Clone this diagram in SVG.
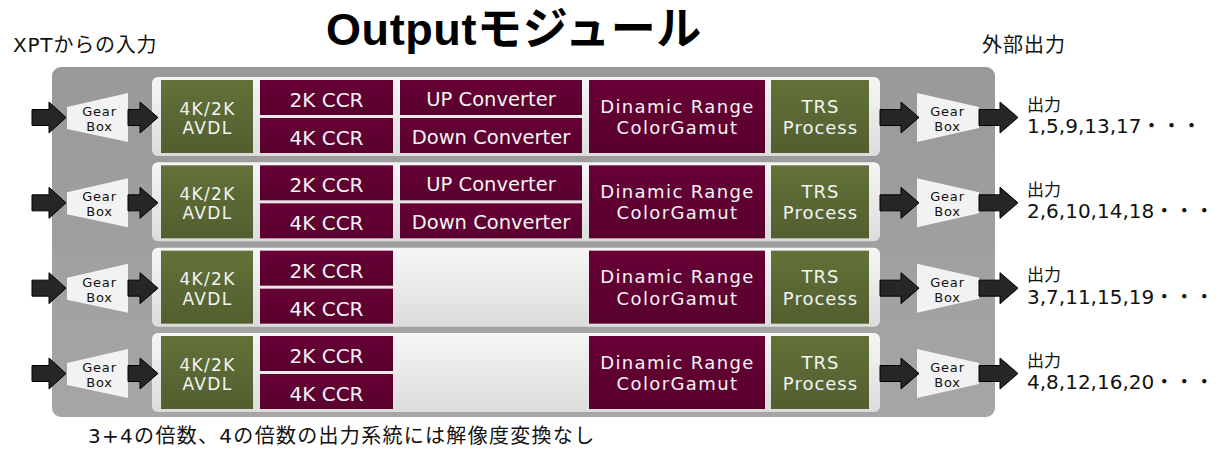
<svg xmlns="http://www.w3.org/2000/svg" width="1222" height="449" viewBox="0 0 1222 449">
<defs>
<linearGradient id="gOuter" x1="0" y1="0" x2="0" y2="1"><stop offset="0" stop-color="#999999"/><stop offset="1" stop-color="#a6a6a6"/></linearGradient>
<linearGradient id="gPanel" x1="0" y1="0" x2="0" y2="1"><stop offset="0" stop-color="#f6f6f6"/><stop offset="1" stop-color="#dcdcdc"/></linearGradient>
<linearGradient id="gRed" x1="0" y1="0" x2="0" y2="1"><stop offset="0" stop-color="#680036"/><stop offset="1" stop-color="#58002d"/></linearGradient>
<linearGradient id="gGreen" x1="0" y1="0" x2="0" y2="1"><stop offset="0" stop-color="#627239"/><stop offset="1" stop-color="#515f2e"/></linearGradient>
<style>
.panel{fill:url(#gPanel)}
.red{fill:url(#gRed)}
.green{fill:url(#gGreen)}
.gear{fill:#f2f2f2}
.arr{fill:#262626;stroke:#000;stroke-width:1}
.bt{font-family:"DejaVu Sans",sans-serif;fill:#f4f4f4;text-anchor:middle}
.av{font-size:17px;letter-spacing:1.3px}
.dr{font-size:18px;letter-spacing:1.4px}
.tr{font-size:18px;letter-spacing:1px}
.cc{font-size:20px}
.cv{font-size:19.5px}
.gt{font-family:"DejaVu Sans",sans-serif;fill:#111;font-size:13px;letter-spacing:0.8px;text-anchor:middle}
.jp{font-family:"DejaVu Sans","Noto Sans CJK JP",sans-serif;fill:#111;font-size:20px}
.ok{font-family:"DejaVu Sans","Noto Sans CJK JP",sans-serif;fill:#111;font-size:17px}
</style>
</defs>
<rect x="0" y="0" width="1222" height="449" fill="#ffffff"/>
<text x="326" y="45" font-family="'Liberation Sans','Noto Sans CJK JP',sans-serif" font-weight="bold" font-size="45" letter-spacing="0.6" fill="#000">Outputモジュール</text>
<text class="jp" x="13" y="52" letter-spacing="0.8">XPTからの入力</text>
<text class="jp" x="982" y="52" letter-spacing="1">外部出力</text>
<g id="module">
<rect x="52" y="67" width="943" height="350" rx="9" fill="url(#gOuter)"/>
</g>
<g id="row1">
<rect class="panel" x="152" y="77" width="728" height="79" rx="6"/>
<g id="avdl1"><rect class="green" x="161" y="80" width="92" height="73"/><text class="bt av" x="207.5" y="114.5">4K/2K</text><text class="bt av" x="207.5" y="134">AVDL</text></g>
<g id="ccr2k1"><rect class="red" x="260" y="80" width="133" height="35"/><text class="bt cc" x="326.5" y="107">2K CCR</text></g>
<g id="ccr4k1"><rect class="red" x="260" y="118" width="133" height="35"/><text class="bt cc" x="326.5" y="145">4K CCR</text></g>
<g id="up1"><rect class="red" x="400" y="80" width="182" height="35"/><text class="bt cv" x="491" y="105.5">UP Converter</text></g>
<g id="down1"><rect class="red" x="400" y="118" width="182" height="35"/><text class="bt cv" x="491" y="143.5">Down Converter</text></g>
<g id="dr1"><rect class="red" x="589" y="80" width="176" height="73"/><text class="bt dr" x="677.5" y="112.5">Dinamic Range</text><text class="bt dr" x="677.5" y="134">ColorGamut</text></g>
<g id="trs1"><rect class="green" x="771" y="80" width="98" height="73"/><text class="bt tr" x="820.5" y="112.5">TRS</text><text class="bt tr" x="820.5" y="134">Process</text></g>
</g>
<g id="row2" transform="translate(0,85.33)">
<rect class="panel" x="152" y="77" width="728" height="79" rx="6"/>
<g id="avdl2"><rect class="green" x="161" y="80" width="92" height="73"/><text class="bt av" x="207.5" y="114.5">4K/2K</text><text class="bt av" x="207.5" y="134">AVDL</text></g>
<g id="ccr2k2"><rect class="red" x="260" y="80" width="133" height="35"/><text class="bt cc" x="326.5" y="107">2K CCR</text></g>
<g id="ccr4k2"><rect class="red" x="260" y="118" width="133" height="35"/><text class="bt cc" x="326.5" y="145">4K CCR</text></g>
<g id="up2"><rect class="red" x="400" y="80" width="182" height="35"/><text class="bt cv" x="491" y="105.5">UP Converter</text></g>
<g id="down2"><rect class="red" x="400" y="118" width="182" height="35"/><text class="bt cv" x="491" y="143.5">Down Converter</text></g>
<g id="dr2"><rect class="red" x="589" y="80" width="176" height="73"/><text class="bt dr" x="677.5" y="112.5">Dinamic Range</text><text class="bt dr" x="677.5" y="134">ColorGamut</text></g>
<g id="trs2"><rect class="green" x="771" y="80" width="98" height="73"/><text class="bt tr" x="820.5" y="112.5">TRS</text><text class="bt tr" x="820.5" y="134">Process</text></g>
</g>
<g id="row3" transform="translate(0,170.67)">
<rect class="panel" x="152" y="77" width="728" height="79" rx="6"/>
<g id="avdl3"><rect class="green" x="161" y="80" width="92" height="73"/><text class="bt av" x="207.5" y="114.5">4K/2K</text><text class="bt av" x="207.5" y="134">AVDL</text></g>
<g id="ccr2k3"><rect class="red" x="260" y="80" width="133" height="35"/><text class="bt cc" x="326.5" y="107">2K CCR</text></g>
<g id="ccr4k3"><rect class="red" x="260" y="118" width="133" height="35"/><text class="bt cc" x="326.5" y="145">4K CCR</text></g>
<g id="dr3"><rect class="red" x="589" y="80" width="176" height="73"/><text class="bt dr" x="677.5" y="112.5">Dinamic Range</text><text class="bt dr" x="677.5" y="134">ColorGamut</text></g>
<g id="trs3"><rect class="green" x="771" y="80" width="98" height="73"/><text class="bt tr" x="820.5" y="112.5">TRS</text><text class="bt tr" x="820.5" y="134">Process</text></g>
</g>
<g id="row4" transform="translate(0,256)">
<rect class="panel" x="152" y="77" width="728" height="79" rx="6"/>
<g id="avdl4"><rect class="green" x="161" y="80" width="92" height="73"/><text class="bt av" x="207.5" y="114.5">4K/2K</text><text class="bt av" x="207.5" y="134">AVDL</text></g>
<g id="ccr2k4"><rect class="red" x="260" y="80" width="133" height="35"/><text class="bt cc" x="326.5" y="107">2K CCR</text></g>
<g id="ccr4k4"><rect class="red" x="260" y="118" width="133" height="35"/><text class="bt cc" x="326.5" y="145">4K CCR</text></g>
<g id="dr4"><rect class="red" x="589" y="80" width="176" height="73"/><text class="bt dr" x="677.5" y="112.5">Dinamic Range</text><text class="bt dr" x="677.5" y="134">ColorGamut</text></g>
<g id="trs4"><rect class="green" x="771" y="80" width="98" height="73"/><text class="bt tr" x="820.5" y="112.5">TRS</text><text class="bt tr" x="820.5" y="134">Process</text></g>
</g>
<g id="gearboxes">
<g id="gearIn1"><polygon class="gear" points="67,107 128,93 128,142 67,129"/><text class="gt" x="99.5" y="116">Gear</text><text class="gt" x="99.5" y="131">Box</text></g>
<g id="gearOut1"><polygon class="gear" points="917,93 979,107 979,128 917,142"/><text class="gt" x="947.5" y="116">Gear</text><text class="gt" x="947.5" y="131">Box</text></g>
<g id="gearIn2" transform="translate(0,85.33)"><polygon class="gear" points="67,107 128,93 128,142 67,129"/><text class="gt" x="99.5" y="116">Gear</text><text class="gt" x="99.5" y="131">Box</text></g>
<g id="gearOut2" transform="translate(0,85.33)"><polygon class="gear" points="917,93 979,107 979,128 917,142"/><text class="gt" x="947.5" y="116">Gear</text><text class="gt" x="947.5" y="131">Box</text></g>
<g id="gearIn3" transform="translate(0,170.67)"><polygon class="gear" points="67,107 128,93 128,142 67,129"/><text class="gt" x="99.5" y="116">Gear</text><text class="gt" x="99.5" y="131">Box</text></g>
<g id="gearOut3" transform="translate(0,170.67)"><polygon class="gear" points="917,93 979,107 979,128 917,142"/><text class="gt" x="947.5" y="116">Gear</text><text class="gt" x="947.5" y="131">Box</text></g>
<g id="gearIn4" transform="translate(0,256)"><polygon class="gear" points="67,107 128,93 128,142 67,129"/><text class="gt" x="99.5" y="116">Gear</text><text class="gt" x="99.5" y="131">Box</text></g>
<g id="gearOut4" transform="translate(0,256)"><polygon class="gear" points="917,93 979,107 979,128 917,142"/><text class="gt" x="947.5" y="116">Gear</text><text class="gt" x="947.5" y="131">Box</text></g>
</g>
<g id="connectors">
<g id="arrows1">
<path class="arr" d="M32,109.5 H49 V102 L66,117.5 L49,133 V125.5 H32 Z"/>
<path class="arr" d="M128,109.5 H140 V102 L158,117.5 L140,133 V125.5 H128 Z"/>
<path class="arr" d="M880,109.5 H901 V102 L919,117.5 L901,133 V125.5 H880 Z"/>
<path class="arr" d="M979,109.5 H1000 V102 L1018,117.5 L1000,133 V125.5 H979 Z"/>
</g>
<g id="arrows2" transform="translate(0,85.33)">
<path class="arr" d="M32,109.5 H49 V102 L66,117.5 L49,133 V125.5 H32 Z"/>
<path class="arr" d="M128,109.5 H140 V102 L158,117.5 L140,133 V125.5 H128 Z"/>
<path class="arr" d="M880,109.5 H901 V102 L919,117.5 L901,133 V125.5 H880 Z"/>
<path class="arr" d="M979,109.5 H1000 V102 L1018,117.5 L1000,133 V125.5 H979 Z"/>
</g>
<g id="arrows3" transform="translate(0,170.67)">
<path class="arr" d="M32,109.5 H49 V102 L66,117.5 L49,133 V125.5 H32 Z"/>
<path class="arr" d="M128,109.5 H140 V102 L158,117.5 L140,133 V125.5 H128 Z"/>
<path class="arr" d="M880,109.5 H901 V102 L919,117.5 L901,133 V125.5 H880 Z"/>
<path class="arr" d="M979,109.5 H1000 V102 L1018,117.5 L1000,133 V125.5 H979 Z"/>
</g>
<g id="arrows4" transform="translate(0,256)">
<path class="arr" d="M32,109.5 H49 V102 L66,117.5 L49,133 V125.5 H32 Z"/>
<path class="arr" d="M128,109.5 H140 V102 L158,117.5 L140,133 V125.5 H128 Z"/>
<path class="arr" d="M880,109.5 H901 V102 L919,117.5 L901,133 V125.5 H880 Z"/>
<path class="arr" d="M979,109.5 H1000 V102 L1018,117.5 L1000,133 V125.5 H979 Z"/>
</g>
</g>
<g id="outputs">
<g id="out1"><text class="ok" x="1027" y="110.5">出力</text><text class="jp" x="1027" y="133">1,5,9,13,17・・・</text></g>
<g id="out2"><text class="ok" x="1027" y="195.8">出力</text><text class="jp" x="1027" y="218.3">2,6,10,14,18・・・</text></g>
<g id="out3"><text class="ok" x="1027" y="281.2">出力</text><text class="jp" x="1027" y="303.7">3,7,11,15,19・・・</text></g>
<g id="out4"><text class="ok" x="1027" y="366.5">出力</text><text class="jp" x="1027" y="389">4,8,12,16,20・・・</text></g>
</g>
<text class="jp" x="88" y="443" letter-spacing="1.3">3+4の倍数、4の倍数の出力系統には解像度変換なし</text>
</svg>
